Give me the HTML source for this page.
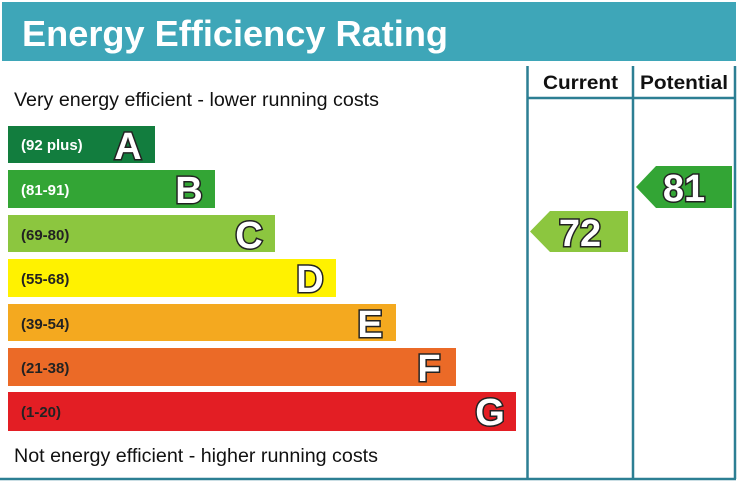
<!DOCTYPE html>
<html><head><meta charset="utf-8"><style>
body{margin:0;background:#fff;}
svg{display:block;font-family:"Liberation Sans",Arial,sans-serif;}
.l{font-weight:bold;font-size:15px;fill:#fff}
.big{font-weight:bold;font-size:38px;fill:#fff;stroke:#222;stroke-width:3px;paint-order:stroke;}
</style></head><body>
<svg width="738" height="483" viewBox="0 0 738 483">
<rect x="2" y="2" width="734" height="59" fill="#3ea6b8"/>
<text x="22" y="46" font-size="36" font-weight="bold" fill="#fff" textLength="426" lengthAdjust="spacingAndGlyphs">Energy Efficiency Rating</text>
<g stroke="#2c7f93" stroke-width="2.5" fill="none">
<line x1="527.5" y1="66" x2="527.5" y2="479"/>
<line x1="633" y1="66" x2="633" y2="479"/>
<line x1="735" y1="66" x2="735" y2="479"/>
<line x1="527" y1="98" x2="736" y2="98"/>
<line x1="0" y1="479" x2="736" y2="479"/>
</g>
<text x="543" y="89" font-size="19" font-weight="bold" fill="#111" textLength="75" lengthAdjust="spacingAndGlyphs">Current</text>
<text x="640" y="89" font-size="19" font-weight="bold" fill="#111" textLength="88" lengthAdjust="spacingAndGlyphs">Potential</text>
<text x="14" y="106" font-size="19" fill="#111" textLength="365" lengthAdjust="spacingAndGlyphs">Very energy efficient - lower running costs</text>
<text x="14" y="462" font-size="19" fill="#111" textLength="364" lengthAdjust="spacingAndGlyphs">Not energy efficient - higher running costs</text>

<rect x="8" y="126" width="147" height="37" fill="#127d3e"/>
<text class="l" x="21" y="150">(92 plus)</text><text class="big" x="128" y="159" text-anchor="middle">A</text>
<rect x="8" y="170" width="207" height="38" fill="#33a535"/>
<text class="l" x="21" y="195">(81-91)</text><text class="big" x="189" y="203" text-anchor="middle">B</text>
<rect x="8" y="215" width="267" height="37" fill="#8cc63f"/>
<text class="l" x="21" y="240" style="fill:#222">(69-80)</text><text class="big" x="249" y="248" text-anchor="middle">C</text>
<rect x="8" y="259" width="328" height="38" fill="#fff200"/>
<text class="l" x="21" y="284" style="fill:#222">(55-68)</text><text class="big" x="310" y="292" text-anchor="middle">D</text>
<rect x="8" y="304" width="388" height="37" fill="#f4a91f"/>
<text class="l" x="21" y="329" style="fill:#222">(39-54)</text><text class="big" x="370" y="337" text-anchor="middle">E</text>
<rect x="8" y="348" width="448" height="38" fill="#eb6a27"/>
<text class="l" x="21" y="373" style="fill:#222">(21-38)</text><text class="big" x="429" y="381" text-anchor="middle">F</text>
<rect x="8" y="392" width="508" height="39" fill="#e31e24"/>
<text class="l" x="21" y="417" style="fill:#222">(1-20)</text><text class="big" x="490" y="425" text-anchor="middle">G</text>

<polygon points="530,231.5 550,211 628,211 628,252 550,252" fill="#8cc63f"/>
<text class="big" x="580" y="246" text-anchor="middle">72</text>
<polygon points="636,187 656,166 732,166 732,208 656,208" fill="#33a535"/>
<text class="big" x="684" y="201" text-anchor="middle">81</text>
</svg>
</body></html>
